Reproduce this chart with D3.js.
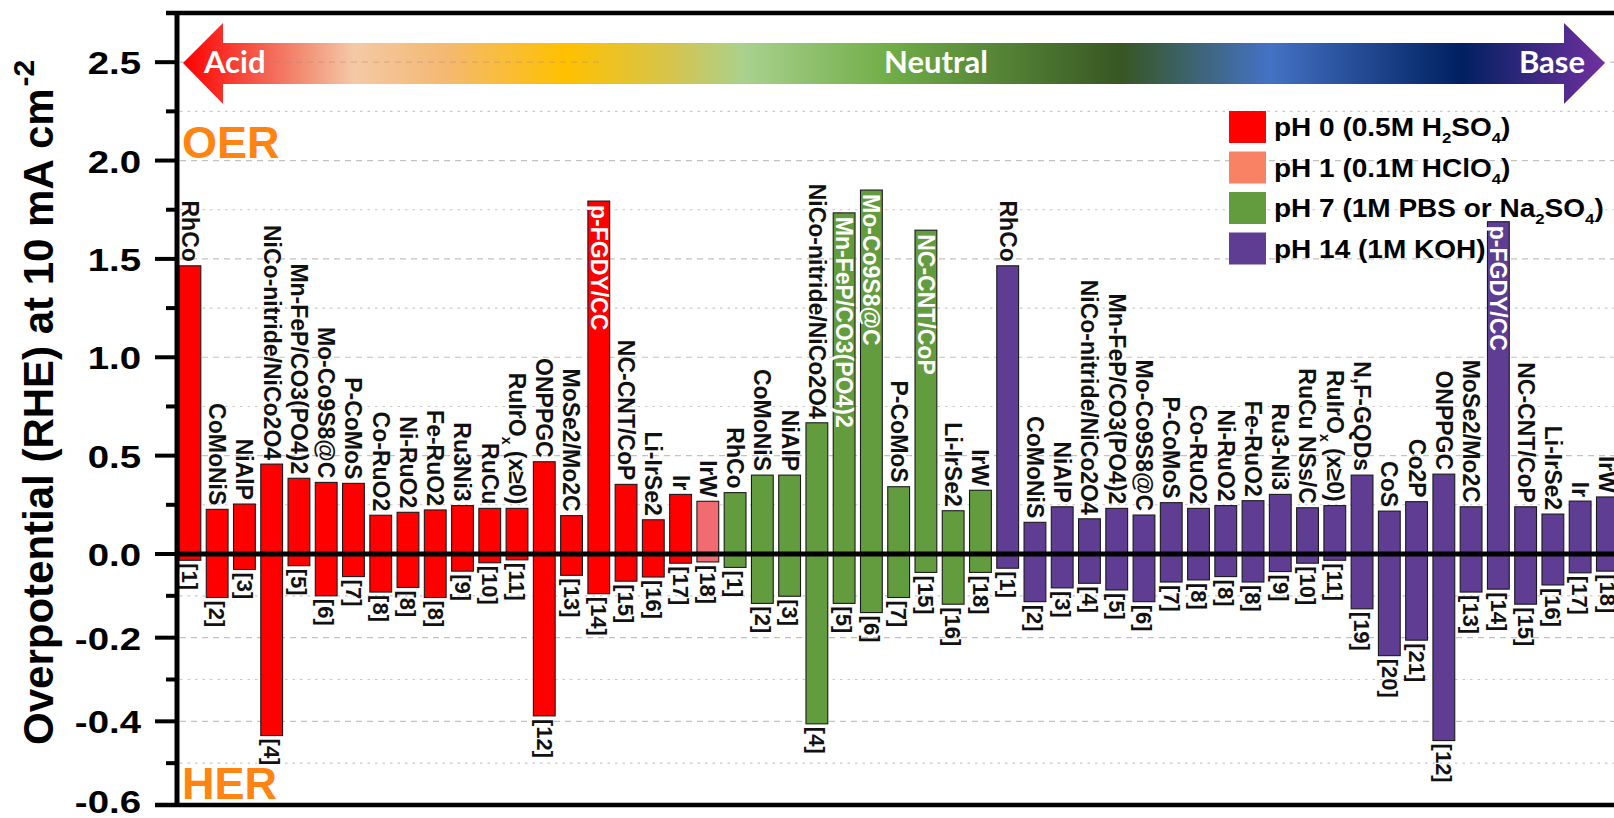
<!DOCTYPE html>
<html>
<head>
<meta charset="utf-8">
<script src="https://cdn.jsdelivr.net/npm/d3@7"></script>
<style>
  html, body { margin: 0; padding: 0; background: #fff; overflow: hidden; }
  text { font-family: "Liberation Sans", Arial, sans-serif; }
</style>
</head>
<body>
<svg id="chart" width="1614" height="818"></svg>
<script>
// Catalysts, in plotting order (acid -> neutral -> base). "_x" marks a subscript.
const materials = [
  "RhCo", "CoMoNiS", "NiAlP", "NiCo-nitride/NiCo2O4", "Mn-FeP/CO3(PO4)2", "Mo-Co9S8@C", "P-CoMoS",
  "Co-RuO2", "Ni-RuO2", "Fe-RuO2", "Ru3Ni3", "RuCu", "RuIrO_x (x≥0)", "ONPPGC", "MoSe2/Mo2C",
  "p-FGDY/CC", "NC-CNT/CoP", "Li-IrSe2", "Ir",
  "IrW",
  "RhCo", "CoMoNiS", "NiAlP", "NiCo-nitride/NiCo2O4", "Mn-FeP/CO3(PO4)2", "Mo-Co9S8@C", "P-CoMoS",
  "NC-CNT/CoP", "Li-IrSe2", "IrW",
  "RhCo", "CoMoNiS", "NiAlP", "NiCo-nitride/NiCo2O4", "Mn-FeP/CO3(PO4)2", "Mo-Co9S8@C", "P-CoMoS",
  "Co-RuO2", "Ni-RuO2", "Fe-RuO2", "Ru3-Ni3", "RuCu NSs/C", "RuIrO_x (x≥0)", "N,F-GQDs", "CoS", "Co2P",
  "ONPPGC", "MoSe2/Mo2C", "p-FGDY/CC", "NC-CNT/CoP", "Li-IrSe2", "Ir", "IrW"
];

// Literature reference numbers
const refs = [
  1, 2, 3, 4, 5, 6, 7, 8, 8, 8, 9, 10, 11, 12, 13, 14, 15, 16, 17,
  18,
  1, 2, 3, 4, 5, 6, 7, 15, 16, 18,
  1, 2, 3, 4, 5, 6, 7, 8, 8, 8, 9, 10, 11, 19, 20, 21, 12, 13, 14, 15, 16, 17, 18
];

// OER overpotential (V vs RHE) at 10 mA cm-2
const oerValues = [
  1.465, 0.227, 0.254, 0.457, 0.385, 0.364, 0.359, 0.197, 0.212, 0.224, 0.246, 0.232, 0.232, 0.469, 0.195,
  1.794, 0.354, 0.174, 0.303,
  0.268,
  0.312, 0.401, 0.401, 0.667, 1.734, 1.850, 0.342, 1.646, 0.220, 0.324,
  1.465, 0.161, 0.240, 0.179, 0.232, 0.198, 0.261, 0.232, 0.246, 0.271, 0.303, 0.235, 0.246, 0.401, 0.218,
  0.266, 0.406, 0.240, 1.689, 0.240, 0.203, 0.269, 0.290
];

// HER overpotential (V vs RHE) at 10 mA cm-2
const herValues = [
  -0.015, -0.104, -0.037, -0.434, -0.028, -0.100, -0.054, -0.091, -0.080, -0.104, -0.041, -0.021, -0.014,
  -0.387, -0.051, -0.095, -0.065, -0.055, -0.022,
  -0.019,
  -0.032, -0.118, -0.101, -0.406, -0.118, -0.140, -0.104, -0.044, -0.120, -0.044,
  -0.034, -0.114, -0.081, -0.070, -0.086, -0.114, -0.067, -0.062, -0.054, -0.067, -0.042, -0.022, -0.015,
  -0.131, -0.243, -0.206, -0.446, -0.091, -0.084, -0.120, -0.074, -0.045, -0.041
];

// Electrolyte of each measurement
const phGroups = [
  ...Array(19).fill("pH 0"), "pH 1", ...Array(10).fill("pH 7"), ...Array(23).fill("pH 14")
];

const legendKeys = ["pH 0", "pH 1", "pH 7", "pH 14"];
const legendLabels = ["pH 0 (0.5M H_2SO_4)", "pH 1 (0.1M HClO_4)", "pH 7 (1M PBS or Na_2SO_4)", "pH 14 (1M KOH)"];

const yMajorTicks = [-0.6, -0.4, -0.2, 0.0, 0.5, 1.0, 1.5, 2.0, 2.5];
const yTickLabels = ["-0.6", "-0.4", "-0.2", "0.0", "0.5", "1.0", "1.5", "2.0", "2.5"];
const yMinorTicks = [-0.5, -0.3, -0.1, 0.25, 0.75, 1.25, 1.75, 2.25, 2.75];

const barColor = { "pH 0": "#FF0000", "pH 1": "#F26B70", "pH 7": "#629C3F", "pH 14": "#5E3D92" };
const swatchColor = { "pH 0": "#FF0000", "pH 1": "#FA8264", "pH 7": "#629C3F", "pH 14": "#5E3D92" };

const svg = d3.select("#chart");
const W = 1614, H = 818;

// y axis: separate linear stretches for the HER (negative) and OER (positive) ranges
const y = d3.scaleLinear().domain([-0.6, 0, 2.75]).range([805, 554, 13]);
const x = d3.scaleBand().domain(d3.range(materials.length))
  .range([179, 1618.3]).paddingInner(0.2).paddingOuter(0);

const axisX = 177;

// append text with "_c" subscripts as tspans
function richText(sel, str, subSize, shift) {
  const parts = str.split(/_(\w)/);
  let lowered = false;
  parts.forEach((p, i) => {
    if (!p) return;
    const t = sel.append("tspan").text(p);
    if (i % 2 === 1) {
      t.attr("font-size", subSize).attr("dy", shift);
      lowered = true;
    } else if (lowered) {
      t.attr("dy", -shift);
      lowered = false;
    }
  });
}

// ---- gradient arrow (acid -> base) ----
const defs = svg.append("defs");
const grad = defs.append("linearGradient").attr("id", "phGrad")
  .attr("gradientUnits", "userSpaceOnUse").attr("x1", 183).attr("x2", 1605).attr("y1", 0).attr("y2", 0);
[
  [0.000, "#FF0000"], [0.056, "#F4604F"], [0.088, "#F2957A"], [0.120, "#F4C9A6"],
  [0.184, "#F4B972"], [0.269, "#FFC000"], [0.346, "#D3C550"], [0.395, "#A9D18E"],
  [0.497, "#70AD47"], [0.660, "#375623"], [0.764, "#4472C4"], [0.899, "#002060"], [1.000, "#7030A0"]
].forEach(([o, c]) => grad.append("stop").attr("offset", o).attr("stop-color", c));

// ---- gridlines ----
const grid = svg.append("g");
grid.selectAll("line.major").data(yMajorTicks.filter(v => v !== 0 && v !== -0.6)).join("line")
  .attr("x1", axisX + 3).attr("x2", W).attr("y1", d => y(d)).attr("y2", d => y(d))
  .attr("stroke", "#C2C2C2").attr("stroke-width", 1.2).attr("stroke-dasharray", "6,5");
grid.selectAll("line.minor").data(yMinorTicks.filter(v => v < 2.7)).join("line")
  .attr("x1", axisX + 3).attr("x2", W).attr("y1", d => y(d)).attr("y2", d => y(d))
  .attr("stroke", "#C8C8C8").attr("stroke-width", 1.1).attr("stroke-dasharray", "2.5,5");

// ---- arrow ----
const ax0 = 183, axh = 223, axb = 1564, ax1 = 1605, ay = 63;
svg.append("path")
  .attr("d", `M${ax0},${ay} L${axh},23 L${axh},43 L${axb},43 L${axb},23 L${ax1},${ay} L${axb},104 L${axb},84 L${axh},84 L${axh},104 Z`)
  .attr("fill", "url(#phGrad)");
svg.append("line").attr("x1", 230).attr("x2", 600).attr("y1", y(2.5)).attr("y2", y(2.5))
  .attr("stroke", "#B08070").attr("stroke-opacity", 0.35).attr("stroke-width", 1.3).attr("stroke-dasharray", "6,5");
const arrowText = svg.append("g").attr("font-weight", "bold").attr("font-size", 31).attr("fill", "#fff");
arrowText.append("text").attr("x", 204).attr("y", 73).style("font-family", "Lato").text("Acid");
arrowText.append("text").attr("x", 936).attr("y", 73).attr("text-anchor", "middle").style("font-family", "Lato").text("Neutral");
arrowText.append("text").attr("x", 1585).attr("y", 73).attr("text-anchor", "end").style("font-family", "Lato").text("Base");

// ---- bars ----
const bars = svg.append("g");
bars.selectAll("rect.oer").data(d3.range(materials.length)).join("rect")
  .attr("x", i => x(i)).attr("width", x.bandwidth())
  .attr("y", i => y(oerValues[i])).attr("height", i => y(0) - y(oerValues[i]))
  .attr("fill", i => barColor[phGroups[i]]).attr("stroke", "#1a1a1a").attr("stroke-width", 1.1);
bars.selectAll("rect.her").data(d3.range(materials.length)).join("rect")
  .attr("x", i => x(i)).attr("width", x.bandwidth())
  .attr("y", y(0)).attr("height", i => y(herValues[i]) - y(0))
  .attr("fill", i => barColor[phGroups[i]]).attr("stroke", "#1a1a1a").attr("stroke-width", 1.1);

// ---- material labels (inside tall bars, otherwise above) ----
const labels = svg.append("g").attr("font-weight", "bold");
d3.range(materials.length).forEach(i => {
  const cx = x(i) + x.bandwidth() / 2;
  const inside = oerValues[i] > 1.6;
  const yy = inside ? y(oerValues[i]) + 4 : y(oerValues[i]) - 4;
  const t = labels.append("text")
    .attr("transform", `translate(${cx},${yy}) rotate(90)`)
    .attr("text-anchor", inside ? "start" : "end")
    .attr("dy", "0.35em").attr("font-size", 23)
    .attr("fill", inside ? "#ffffff" : "#111");
  richText(t, materials[i], 14, 7);
  labels.append("text")
    .attr("transform", `translate(${cx},${y(herValues[i]) + 3}) rotate(90)`)
    .attr("text-anchor", "start").attr("dy", "0.35em").attr("font-size", 22).attr("fill", "#111")
    .text(`[${refs[i]}]`);
});

// ---- zero line & frame ----
svg.append("line").attr("x1", axisX).attr("x2", W).attr("y1", y(0)).attr("y2", y(0))
  .attr("stroke", "#000").attr("stroke-width", 5);
svg.append("line").attr("x1", 166).attr("x2", W).attr("y1", y(2.75)).attr("y2", y(2.75))
  .attr("stroke", "#000").attr("stroke-width", 4.5);
svg.append("line").attr("x1", 155).attr("x2", W).attr("y1", y(-0.6)).attr("y2", y(-0.6))
  .attr("stroke", "#000").attr("stroke-width", 4.5);
svg.append("line").attr("x1", axisX).attr("x2", axisX).attr("y1", y(2.75) - 2).attr("y2", y(-0.6) + 2)
  .attr("stroke", "#000").attr("stroke-width", 5);

// ---- y ticks ----
const yAxis = svg.append("g");
yAxis.selectAll("line.maj").data(yMajorTicks).join("line")
  .attr("x1", 155).attr("x2", axisX).attr("y1", d => y(d)).attr("y2", d => y(d))
  .attr("stroke", "#000").attr("stroke-width", 4);
yAxis.selectAll("line.min").data(yMinorTicks).join("line")
  .attr("x1", 166).attr("x2", axisX).attr("y1", d => y(d)).attr("y2", d => y(d))
  .attr("stroke", "#000").attr("stroke-width", 4);
yAxis.selectAll("text").data(yMajorTicks).join("text")
  .attr("transform", d => `translate(141,${Math.min(y(d) + 12, H - 5)}) scale(1.2,1)`)
  .attr("text-anchor", "end")
  .attr("font-size", 32).attr("font-weight", "bold").attr("fill", "#000")
  .text((d, i) => yTickLabels[i]);

// ---- y title ----
const title = svg.append("text")
  .attr("transform", "translate(53,745) rotate(-90)")
  .attr("font-size", 42).attr("font-weight", "bold").attr("fill", "#000");
title.append("tspan").text("Overpotential (RHE) at 10 mA cm");
title.append("tspan").attr("font-size", 30).attr("dy", -19).attr("dx", 2).text("-2");

// ---- OER / HER ----
svg.append("text").attr("x", 182).attr("y", 158).attr("font-size", 45).attr("font-weight", "bold")
  .attr("fill", "#FF8412").text("OER");
svg.append("text").attr("x", 182).attr("y", 799).attr("font-size", 45).attr("font-weight", "bold")
  .attr("fill", "#FF8412").text("HER");

// ---- legend ----
const legend = svg.append("g").attr("transform", "translate(1229,111)");
legendKeys.forEach((k, i) => {
  const g = legend.append("g").attr("transform", `translate(0,${i * 40.5})`);
  g.append("rect").attr("width", 37).attr("height", 32).attr("fill", swatchColor[k]);
  const t = g.append("text").attr("transform", "translate(45,25) scale(1.12,1)")
    .attr("font-size", 25).attr("font-weight", "bold").attr("fill", "#000");
  richText(t, legendLabels[i], 15, 7);
});
</script>
</body>
</html>
